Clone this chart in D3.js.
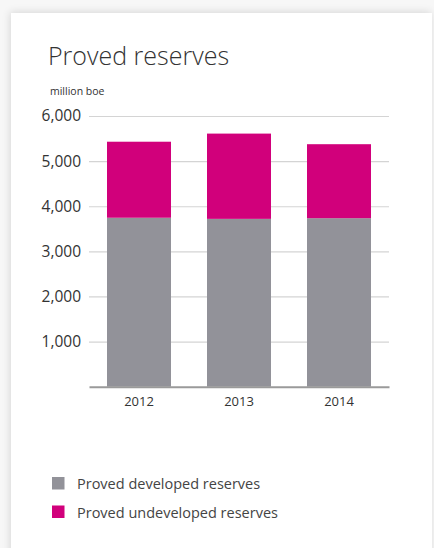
<!DOCTYPE html>
<html>
<head>
<meta charset="utf-8">
<script src="https://cdn.jsdelivr.net/npm/d3@7"></script>
<style>
  html, body { margin: 0; padding: 0; background: #f7f7f7; }
  body { width: 434px; height: 548px; overflow: hidden; position: relative; }
  .card {
    position: absolute; left: 11px; top: 13px; width: 421px; height: 560px;
    background: #fff; box-shadow: -1px -1px 8px rgba(0,0,0,0.13);
  }
  svg { position: absolute; left: 0; top: 0; }
  text { font-family: "Open Sans", "Lato", sans-serif; }
</style>
</head>
<body>
<div class="card"></div>
<svg id="chart" width="434" height="548"></svg>
<script>
// Proved reserves by year, million barrels of oil equivalent
const years = ["2012", "2013", "2014"];
const developed = [3745, 3720, 3735];
const undeveloped = [1685, 1890, 1640];
const yTicks = [1000, 2000, 3000, 4000, 5000, 6000];
const seriesNames = ["Proved developed reserves", "Proved undeveloped reserves"];
const seriesColors = ["#929299", "#d1007b"];

const svg = d3.select("#chart");

const x = d3.scaleBand().domain(years).range([89, 389])
  .paddingInner(0.36).paddingOuter(0.18);
const y = d3.scaleLinear().domain([0, 6000]).range([386.7, 116]);

// title and unit
svg.append("text").attr("x", 48).attr("y", 65)
  .attr("font-size", 25).attr("font-weight", 300).attr("fill", "#333")
  .text("Proved reserves");
svg.append("text").attr("x", 50).attr("y", 95)
  .attr("font-size", 10.5).attr("fill", "#333")
  .text("million boe");

// gridlines with value labels
const yAxis = d3.axisLeft(y).tickValues(yTicks)
  .tickFormat(d3.format(",")).tickSize(-300).tickPadding(8);
const gy = svg.append("g").attr("transform", "translate(89,0)").call(yAxis);
gy.select(".domain").remove();
gy.selectAll(".tick line").attr("stroke", "#d4d4d4").attr("stroke-width", 1.2);
gy.selectAll(".tick text").attr("font-size", 15.5).attr("fill", "#333")
  .attr("font-family", "'Open Sans', sans-serif");

// stacked bars
const rows = years.map((yr, i) => ({ year: yr, dev: developed[i], undev: undeveloped[i] }));
const stacked = d3.stack().keys(["dev", "undev"])(rows);
svg.append("g").selectAll("g").data(stacked).join("g")
  .attr("fill", (d, i) => seriesColors[i])
  .selectAll("rect").data(d => d).join("rect")
  .attr("x", d => x(d.data.year))
  .attr("width", x.bandwidth())
  .attr("y", d => y(d[1]))
  .attr("height", d => y(d[0]) - y(d[1]));

// category axis
const xAxis = d3.axisBottom(x).tickSize(0).tickPadding(10);
const gx = svg.append("g").attr("transform", `translate(0,${y(0)})`).call(xAxis);
gx.select(".domain").attr("stroke", "#9a9a9a").attr("stroke-width", 2);
gx.selectAll(".tick text").attr("font-size", 13).attr("fill", "#333")
  .attr("font-family", "'Open Sans', sans-serif");

// legend
const legend = svg.append("g").selectAll("g").data(seriesNames).join("g")
  .attr("transform", (d, i) => `translate(52,${477 + i * 28.5})`);
legend.append("rect").attr("width", 12.5).attr("height", 12.5)
  .attr("fill", (d, i) => seriesColors[i]);
legend.append("text").attr("x", 25).attr("y", 12)
  .attr("font-size", 14.5).attr("fill", "#444").text(d => d);
</script>
</body>
</html>
